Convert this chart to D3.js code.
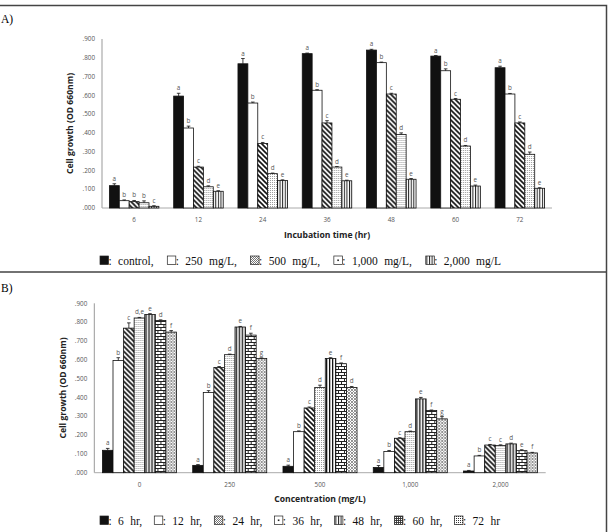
<!DOCTYPE html>
<html>
<head>
<meta charset="utf-8">
<script src="https://cdn.jsdelivr.net/npm/d3@7"></script>
<style>
  body { margin: 0; background: #fff; }
  text { font-family: "Open Sans", "DejaVu Sans", sans-serif; }
  .serif { font-family: "Liberation Serif", "Times New Roman", serif; }
</style>
</head>
<body>
<svg id="chart" width="608" height="532"></svg>
<script>
// incubation times (hr) and treatment concentrations (mg/L)
const hours = ["6", "12", "24", "36", "48", "60", "72"];
const concs = ["0", "250", "500", "1,000", "2,000"];
const concNames = ["control", "250 mg/L", "500 mg/L", "1,000 mg/L", "2,000 mg/L"];
const hourNames = ["6 hr", "12 hr", "24 hr", "36 hr", "48 hr", "60 hr", "72 hr"];
const yTicks = [0, 0.1, 0.2, 0.3, 0.4, 0.5, 0.6, 0.7, 0.8, 0.9];

// OD 660nm, one row per time, columns = control, 250, 500, 1000, 2000
const growth = [
  [0.119, 0.039, 0.034, 0.028, 0.009],
  [0.596, 0.426, 0.218, 0.113, 0.089],
  [0.768, 0.559, 0.344, 0.183, 0.147],
  [0.822, 0.627, 0.453, 0.218, 0.145],
  [0.841, 0.774, 0.607, 0.392, 0.153],
  [0.809, 0.731, 0.579, 0.330, 0.117],
  [0.747, 0.607, 0.453, 0.286, 0.105]
];
const sd = [
  [0.010, 0.004, 0.006, 0.010, 0.003],
  [0.015, 0.010, 0.004, 0.005, 0.003],
  [0.028, 0.005, 0.005, 0.003, 0.003],
  [0.003, 0.003, 0.012, 0.003, 0.003],
  [0.004, 0.003, 0.004, 0.008, 0.004],
  [0.003, 0.010, 0.004, 0.003, 0.005],
  [0.008, 0.003, 0.005, 0.012, 0.003]
];
// significance letters, panel A (by time, then concentration)
const lettersA = [
  ["a", "b", "b", "b", "c"],
  ["a", "b", "c", "d", "e"],
  ["a", "b", "c", "d", "e"],
  ["a", "b", "c", "d", "e"],
  ["a", "b", "c", "d", "e"],
  ["a", "b", "c", "d", "e"],
  ["a", "b", "c", "d", "e"]
];
// panel B (by concentration, then time)
const lettersB = [
  ["a", "b", "c", "d,e", "e", "d", "f"],
  ["a", "b", "c", "d", "e", "f", "g"],
  ["a", "b", "c", "d", "e", "f", "d"],
  ["a", "b", "c", "d", "e", "f", "g"],
  ["a", "b", "c", "c", "d", "e", "f"]
];

const svg = d3.select("#chart");
const defs = svg.append("defs");

function pattern(id, w, h, draw) {
  const p = defs.append("pattern").attr("id", id)
    .attr("patternUnits", "userSpaceOnUse").attr("width", w).attr("height", h);
  p.append("rect").attr("width", w).attr("height", h).attr("fill", "#fff");
  draw(p);
}
pattern("diag", 5, 5, p => p.append("path")
  .attr("d", "M-1,-1L6,6M-1,4L1,6M4,-1L6,1").attr("stroke", "#111").attr("stroke-width", 1.6));
pattern("dots", 2, 2, p => p.append("rect").attr("width", 1).attr("height", 1).attr("fill", "#999"));
pattern("vert", 2.6, 4, p => p.append("rect").attr("width", 1).attr("height", 4).attr("fill", "#222"));
pattern("vert2", 3, 4, p => p.append("rect").attr("x", 1).attr("width", 1.3).attr("height", 4).attr("fill", "#111"));
pattern("brick", 6, 6, p => p.append("path")
  .attr("d", "M0,0.5H6M0,3.5H6M1.5,0.5V3.5M4.5,3.5V6").attr("stroke", "#222").attr("stroke-width", 1));
pattern("check", 3, 3, p => p.append("path")
  .attr("d", "M0,0L3,3M3,0L0,3").attr("stroke", "#888").attr("stroke-width", 0.9));
pattern("diagL", 2, 2, p => p.append("path")
  .attr("d", "M-0.5,-0.5L2.5,2.5").attr("stroke", "#666").attr("stroke-width", 0.9));
pattern("gridL", 2, 2, p => p.append("path")
  .attr("d", "M0,0.5H2M0.5,0V2").attr("stroke", "#333").attr("stroke-width", 0.9));
pattern("checkL", 2, 2, p => p.append("rect").attr("width", 1).attr("height", 1).attr("fill", "#333"));

const fillsA = ["#111", "#fff", "url(#diag)", "url(#dots)", "url(#vert)"];
const fillsB = ["#111", "#fff", "url(#diag)", "url(#dots)", "url(#vert2)", "url(#brick)", "url(#check)"];

const fmt = d => d3.format(".3f")(d).replace(/^0/, "");

function drawPanel(cfg) {
  const x = d3.scaleBand().domain(cfg.groups).range(cfg.xr)
    .paddingInner(cfg.pad).paddingOuter(cfg.pad / 2);
  const xs = d3.scaleBand().domain(cfg.series).range([0, x.bandwidth()]);
  const y = d3.scaleLinear().domain([0, 0.9]).range(cfg.yr);
  const g = svg.append("g");

  // y axis
  g.append("line").attr("x1", cfg.xr[0]).attr("x2", cfg.xr[0])
    .attr("y1", y(0)).attr("y2", y(0.9)).attr("stroke", "#999");
  g.selectAll(".yt").data(yTicks).join("text")
    .attr("x", cfg.xr[0] - 7).attr("y", d => y(d)).attr("dy", "0.35em")
    .attr("text-anchor", "end").attr("font-size", 6.3).attr("fill", "#555")
    .text(fmt);
  g.append("line").attr("x1", cfg.xr[0]).attr("x2", cfg.xr[1])
    .attr("y1", y(0)).attr("y2", y(0)).attr("stroke", "#aaa");

  cfg.groups.forEach((grp, gi) => {
    const cell = g.append("g").attr("transform", `translate(${x(grp)},0)`);
    cfg.series.forEach((s, si) => {
      const v = cfg.value(gi, si), e = cfg.err(gi, si);
      const bx = xs(s), bw = xs.bandwidth();
      cell.append("rect").attr("x", bx).attr("y", y(v))
        .attr("width", bw).attr("height", y(0) - y(v))
        .attr("fill", cfg.fills[si]).attr("stroke", "#111").attr("stroke-width", 0.8);
      const cx = bx + bw / 2;
      cell.append("path")
        .attr("d", `M${cx},${y(v)}V${y(v + e)}M${cx - 1.8},${y(v + e)}H${cx + 1.8}`)
        .attr("stroke", "#111").attr("stroke-width", 0.8).attr("fill", "none");
      cell.append("text").attr("x", cx).attr("y", y(v + e) - 3)
        .attr("text-anchor", "middle").attr("font-size", 6.3).attr("fill", "#555")
        .text(cfg.letters[gi][si]);
    });
    g.append("text").attr("x", x(grp) + x.bandwidth() / 2).attr("y", cfg.yr[0] + 14)
      .attr("text-anchor", "middle").attr("font-size", 6.3).attr("fill", "#555").text(grp);
  });

  g.append("text").attr("transform", `translate(${cfg.yTitleX},${(cfg.yr[0] + cfg.yr[1]) / 2}) rotate(-90)`)
    .attr("text-anchor", "middle").attr("font-size", 8.6).attr("font-weight", "bold")
    .attr("fill", "#222").text("Cell growth (OD 660nm)");
  g.append("text").attr("x", (cfg.xr[0] + cfg.xr[1]) / 2).attr("y", cfg.xTitleY)
    .attr("text-anchor", "middle").attr("font-size", 8.6).attr("font-weight", "bold")
    .attr("fill", "#222").text(cfg.xTitle);
}

function legend(items, x0, x1, base) {
  const g = svg.append("g");
  const parts = items.map((it, i) => {
    const t = g.append("text").attr("class", "serif").attr("font-size", 11.5)
      .attr("word-spacing", 3.5).attr("y", base).attr("fill", "#111")
      .text(": " + it.label + (i < items.length - 1 ? "," : ""));
    return { it, t, w: t.node().getComputedTextLength() };
  });
  const sw = 8.5;
  const total = d3.sum(parts, p => p.w + sw);
  const gap = (x1 - x0 - total) / (items.length - 1);
  let cx = x0;
  parts.forEach(p => {
    g.append("rect").attr("x", cx).attr("y", base - 9).attr("width", sw).attr("height", 8.5)
      .attr("fill", p.it.fill).attr("stroke", "#222").attr("stroke-width", 0.7);
    if (p.it.dot) {
      g.append("rect").attr("x", cx + sw / 2 - 0.8).attr("y", base - 9 + 4.25 - 0.8)
        .attr("width", 1.6).attr("height", 1.6).attr("fill", "#222");
    }
    p.t.attr("x", cx + sw);
    cx += sw + p.w + gap;
  });
}

// frame lines
svg.append("path").attr("d", "M0,5.5H606.5V532M0,272H606.5")
  .attr("stroke", "#444").attr("stroke-width", 1.5).attr("fill", "none");
svg.append("text").attr("class", "serif").attr("x", 1).attr("y", 23).attr("font-size", 11.5).text("A)");
svg.append("text").attr("class", "serif").attr("x", 1).attr("y", 292).attr("font-size", 11.5).text("B)");

drawPanel({
  groups: hours, series: concs, xr: [102, 552], yr: [208, 39], pad: 0.23,
  value: (g, s) => growth[g][s], err: (g, s) => sd[g][s],
  letters: lettersA, fills: fillsA,
  yTitleX: 73, xTitle: "Incubation time (hr)", xTitleY: 238
});
drawPanel({
  groups: concs, series: hours, xr: [94.3, 545.7], yr: [472.7, 303.3], pad: 0.18,
  value: (g, s) => growth[s][g], err: (g, s) => sd[s][g],
  letters: lettersB, fills: fillsB,
  yTitleX: 66, xTitle: "Concentration (mg/L)", xTitleY: 502
});

legend([
  { fill: "#111", label: concNames[0] },
  { fill: "#fff", label: concNames[1] },
  { fill: "url(#diagL)", label: concNames[2] },
  { fill: "#fff", dot: true, label: concNames[3] },
  { fill: "url(#vert)", label: concNames[4] }
], 100, 501, 265);

legend([
  { fill: "#111", label: hourNames[0] },
  { fill: "#fff", label: hourNames[1] },
  { fill: "url(#diagL)", label: hourNames[2] },
  { fill: "#fff", dot: true, label: hourNames[3] },
  { fill: "url(#vert)", label: hourNames[4] },
  { fill: "url(#gridL)", label: hourNames[5] },
  { fill: "url(#checkL)", label: hourNames[6] }
], 100, 500, 525);
</script>
</body>
</html>
